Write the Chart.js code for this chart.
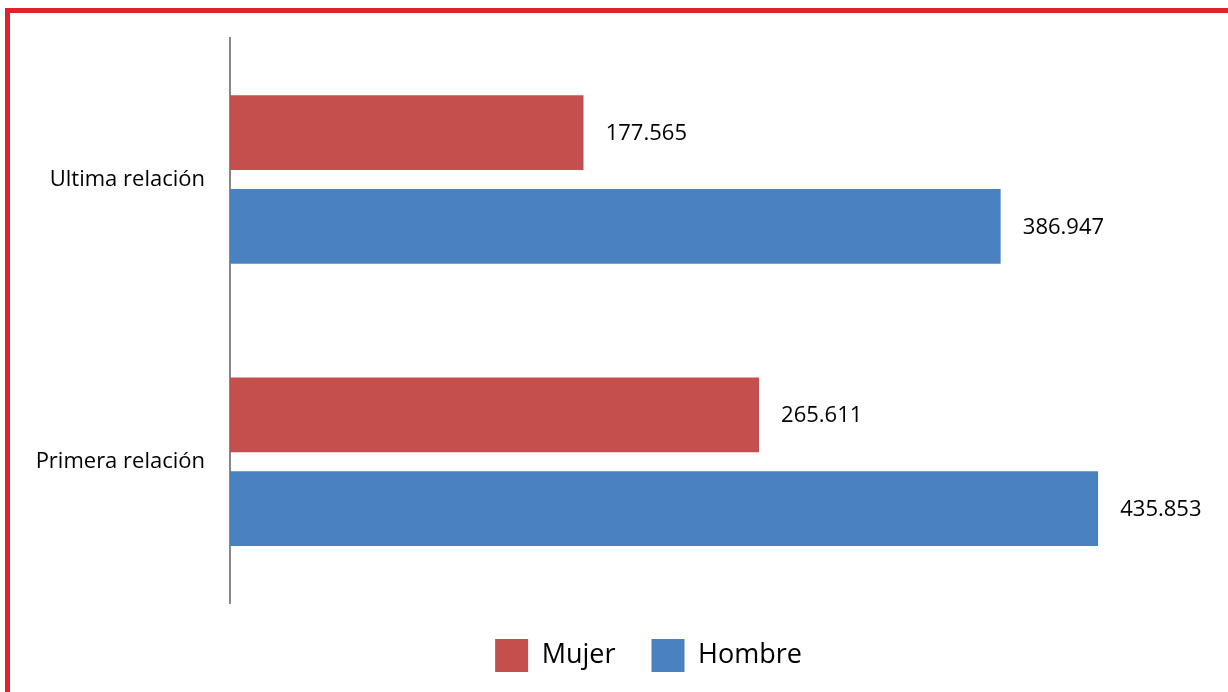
<!DOCTYPE html>
<html>
  <head>
    <script src="https://cdn.jsdelivr.net/npm/chart.js@4/dist/chart.umd.min.js"></script>
    <style>
      html, body { margin: 0; padding: 0; background: #fff; }
      #wrap { position: relative; width: 1228px; height: 692px; overflow: hidden; }
      #frame {
        position: absolute; left: 5px; top: 8px; width: 1300px; height: 800px;
        border-top: 5px solid #e1222b; border-left: 5px solid #e1222b;
        pointer-events: none;
      }
    </style>
  </head>

  <body>
    <div id="wrap">
      <canvas id="graph" width="1228" height="692"></canvas>
      <div id="frame"></div>
    </div>
    <script>
      const categories = ['Ultima relación', 'Primera relación'];
      const mujer = [177565, 265611];
      const hombre = [386947, 435853];

      const fmt = (v) => String(v).replace(/\B(?=(\d{3})+(?!\d))/g, '.');

      // value labels at the end of each bar
      const valueLabels = {
        id: 'valueLabels',
        afterLayout(chart) {
          // legend sits a bit right of the canvas centre in the original
          chart.legend.left += 17;
          chart.legend.right += 17;
        },
        afterDatasetsDraw(chart) {
          const ctx = chart.ctx;
          ctx.save();
          ctx.font = '22px "Open Sans"';
          ctx.fillStyle = '#000';
          ctx.textAlign = 'left';
          ctx.textBaseline = 'middle';
          chart.data.datasets.forEach((ds, i) => {
            chart.getDatasetMeta(i).data.forEach((bar, j) => {
              ctx.fillText(fmt(ds.data[j]), bar.x + 22, bar.y + 1);
            });
          });
          ctx.restore();
        },
      };

      const gap = { top: 9.5, bottom: 9.5, left: 0, right: 0 };

      new Chart(document.getElementById('graph'), {
        type: 'bar',
        plugins: [valueLabels],
        data: {
          labels: categories,
          datasets: [
            {
              label: 'Mujer',
              data: mujer,
              backgroundColor: '#c4504d',
              borderColor: 'rgba(0,0,0,0)',
              borderWidth: gap,
            },
            {
              label: 'Hombre',
              data: hombre,
              backgroundColor: '#4a81c0',
              borderColor: 'rgba(0,0,0,0)',
              borderWidth: gap,
            },
          ],
        },
        options: {
          indexAxis: 'y',
          responsive: false,
          animation: false,
          categoryPercentage: 0.664,
          barPercentage: 1,
          layout: {
            padding: { left: 37, right: 2, top: 35, bottom: 10 },
          },
          scales: {
            x: {
              display: false,
              min: 0,
              max: 500000,
            },
            y: {
              afterFit: (s) => { s.width = 193; },
              grid: { display: false, drawTicks: false },
              border: { display: true, color: '#888888', width: 2 },
              ticks: {
                padding: 25,
                color: '#000',
                font: { family: 'Open Sans', size: 22 },
              },
            },
          },
          plugins: {
            tooltip: { enabled: false },
            legend: {
              position: 'bottom',
              labels: {
                boxWidth: 33,
                boxHeight: 33,
                padding: 36,
                color: '#000',
                font: { family: 'Open Sans', size: 27 },
              },
            },
          },
        },
      });
    </script>
  </body>
</html>
